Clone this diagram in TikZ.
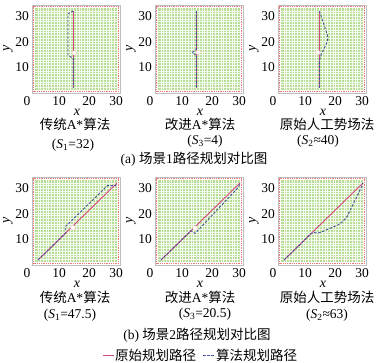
\documentclass[tikz,border=0pt]{standalone}
\usepackage{fontspec}
\setmainfont{Liberation Serif}
\newfontfamily\cjk{Noto Sans CJK SC}
\definecolor{gridgreen}{RGB}{184,221,148}
\definecolor{pathred}{RGB}{214,70,130}
\definecolor{pathblue}{RGB}{70,80,160}
\definecolor{borderred}{RGB}{236,120,120}
\tikzset{
  edgedots/.style={borderred, densely dotted, line width=0.8pt},
  cellgrid/.style={white!85!gridgreen, line width=0.4pt},
  refpath/.style={pathred, line width=0.9pt},
  algpath/.style={pathblue, dash pattern=on 2.5pt off 1.6pt, line width=0.9pt},
  obstacle/.style={circle, fill=white, draw=pink!70, line width=0.4pt, inner sep=0pt, minimum size=4.5pt},
  ticklab/.style={font=\fontsize{13.5}{14}\selectfont, inner sep=0pt},
  axislab/.style={font=\fontsize{14}{14}\selectfont\itshape, inner sep=0pt},
  cntext/.style={font=\fontsize{13.5}{14}\selectfont, inner sep=0pt},
  onmap/.style 2 args={shift={(#1,#2)}, shift={(0.55,0.31)}, x=2.724pt, y=2.655pt},
}
% one grid map with its axes, lower left corner at (#1,#2)
\newcommand{\mappanel}[2]{%
\begin{scope}[shift={(#1,#2)}]
\draw[gray!50, fill=white, line width=0.5pt] (0,0) rectangle (88,-88); % map border
\draw[edgedots] (1.6,-1.6) rectangle (86.4,-86.4); % boundary cells
\fill[gridgreen] (3,-3) rectangle (85,-85); % free cells
\foreach \k in {1,...,29} {
  \draw[cellgrid] ({3+\k*2.733},-3) -- ({3+\k*2.733},-85);
  \draw[cellgrid] (3,{-3-\k*2.733}) -- (85,{-3-\k*2.733});
}
\node[ticklab] at (-5,8) {0};
\node[ticklab] at (27,8) {10};
\node[ticklab] at (57,8) {20};
\node[ticklab] at (84,8) {30};
\node[ticklab, anchor=east] at (-3,-77) {30};
\node[ticklab, anchor=east] at (-3,-51) {20};
\node[ticklab, anchor=east] at (-3,-26) {10};
\node[axislab] at (45,19) {x};
\node[axislab, rotate=90] at (-24,-45) {y};
\end{scope}}

\begin{document}
\begin{tikzpicture}[x=1pt, y=-1pt]
\useasboundingbox (0,0) rectangle (377,363);
% scene 1
\mappanel{32}{93}
\mappanel{155}{93}
\mappanel{278}{93}
\begin{scope}[onmap={32}{93}]
\draw[refpath] (15,2) -- (15,31);
\draw[algpath] (15,31) -- (13,30) -- (13,14.5) -- (15,13) -- (15,2);
\node[obstacle] (obsa1) at (15.4,15.2) {};
\end{scope}
\begin{scope}[onmap={155}{93}]
\draw[refpath] (15,2) -- (15,31);
\draw[algpath] (15,31) -- (15,16.6) -- (13.5,15.4) -- (15,14.2) -- (15,2);
\node[obstacle] (obsa2) at (15.7,15.4) {};
\end{scope}
\begin{scope}[onmap={278}{93}]
\draw[refpath] (15,2) -- (15,31);
\draw[algpath, rounded corners=4pt] (15,31) -- (18.4,20.5) -- (15,13.2) -- (15,2);
\node[obstacle] (obsa3) at (14.4,15.3) {};
\end{scope}
% scene 2
\mappanel{32}{265}
\mappanel{155}{265}
\mappanel{278}{265}
\begin{scope}[onmap={32}{265}]
\draw[refpath] (2,2) -- (31,31);
\draw[algpath] (2,2) -- (12,12) -- (12,14.5) -- (27.5,30) -- (30.5,30) -- (31,31);
\node[obstacle] (obsb1) at (14.8,14.2) {};
\end{scope}
\begin{scope}[onmap={155}{265}]
\draw[refpath] (2,2) -- (31,31);
\draw[algpath] (2,2) -- (13,13) -- (14.5,12) -- (30.5,29.5) -- (31,31);
\node[obstacle] (obsb2) at (14.5,14) {};
\end{scope}
\begin{scope}[onmap={278}{265}]
\draw[refpath] (2,2) -- (31,31);
\draw[algpath, rounded corners=2pt] (2,2) -- (12.5,12.5) -- (14.5,12) -- (22.5,15.5) -- (25,18) -- (30.7,30) -- (31,31);
\end{scope}
% titles and results
\node[cntext] (ta1) at (75,124) {{\cjk 传统}A*{\cjk 算法}};
\node[cntext] (ta2) at (200,124) {{\cjk 改进}A*{\cjk 算法}};
\node[cntext] (ta3) at (327,124) {\cjk 原始人工势场法};
\node[cntext] (sa1) at (73,145) {(\textit{S}\textsubscript{1}=32)};
\node[cntext] (sa2) at (205,141) {(\textit{S}\textsubscript{3}=4)};
\node[cntext] (sa3) at (318,141) {(\textit{S}\textsubscript{2}≈40)};
\node[cntext] (capa) at (194,159) {(a) {\cjk 场景}1{\cjk 路径规划对比图}};
\node[cntext] (tb1) at (75,297) {{\cjk 传统}A*{\cjk 算法}};
\node[cntext] (tb2) at (200,297) {{\cjk 改进}A*{\cjk 算法}};
\node[cntext] (tb3) at (327,297) {\cjk 原始人工势场法};
\node[cntext] (sb1) at (70,315) {(\textit{S}\textsubscript{1}=47.5)};
\node[cntext] (sb2) at (205,314) {(\textit{S}\textsubscript{3}=20.5)};
\node[cntext] (sb3) at (327,315) {(\textit{S}\textsubscript{2}≈63)};
\node[cntext] (capb) at (197,335) {(b) {\cjk 场景}2{\cjk 路径规划对比图}};
% legend
\draw[refpath] (103,355) -- (114,355);
\node[cntext, anchor=west] (lga) at (115,355) {\cjk 原始规划路径};
\draw[algpath] (203,355) -- (214,355);
\node[cntext, anchor=west] (lgb) at (216,355) {\cjk 算法规划路径};
\end{tikzpicture}
\end{document}
